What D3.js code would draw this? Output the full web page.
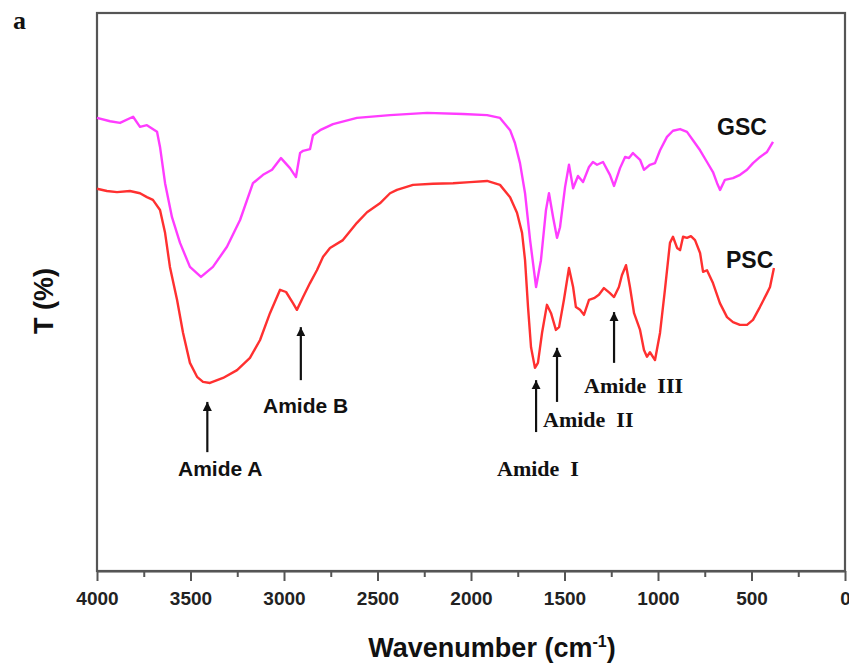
<!DOCTYPE html>
<html>
<head>
<meta charset="utf-8">
<script src="https://cdn.jsdelivr.net/npm/d3@7"></script>
<style>
  html, body { margin: 0; padding: 0; background: #fff; }
  svg { display: block; }
  text { font-family: Arial, "Liberation Sans", sans-serif; }
</style>
</head>
<body>
<svg id="chart" width="849" height="664"></svg>
<script>
// ---------- data ----------
const xTicksMajor = [4000, 3500, 3000, 2500, 2000, 1500, 1000, 500, 0];
const xTicksMinor = [3750, 3250, 2750, 2250, 1750, 1250, 750, 250];

const gscWavenumber = [4000, 3930, 3877, 3807, 3770, 3733, 3679, 3663, 3636, 3599, 3556, 3503, 3444, 3380, 3305, 3235, 3166, 3112, 3064, 3016, 2968, 2936, 2914, 2898, 2861, 2845, 2807, 2738, 2610, 2433, 2235, 2043, 1914, 1845, 1791, 1765, 1738, 1711, 1684, 1652, 1626, 1599, 1583, 1561, 1540, 1524, 1497, 1476, 1454, 1428, 1401, 1369, 1348, 1326, 1294, 1257, 1235, 1203, 1176, 1155, 1134, 1096, 1075, 1043, 1016, 989, 952, 920, 882, 845, 813, 775, 738, 706, 684, 668, 642, 599, 561, 524, 492, 454, 417, 385];
const gscT = [81.2, 80.6, 80.3, 81.4, 79.6, 79.9, 78.7, 76.0, 69.5, 63.4, 58.8, 54.5, 52.7, 54.5, 58.1, 62.9, 69.5, 71.0, 71.9, 74.0, 72.2, 70.6, 74.9, 75.3, 75.6, 78.1, 79.0, 80.1, 81.2, 81.7, 82.1, 81.9, 81.7, 81.2, 79.0, 76.7, 73.1, 67.7, 59.3, 50.9, 55.7, 64.7, 67.7, 63.4, 59.7, 61.6, 68.8, 72.8, 68.6, 70.8, 69.7, 72.4, 73.3, 72.8, 73.3, 71.0, 69.0, 72.2, 74.2, 74.0, 74.9, 73.7, 71.9, 72.8, 73.1, 75.4, 77.8, 78.9, 79.2, 78.7, 77.2, 75.4, 73.3, 71.5, 69.5, 68.3, 70.1, 70.4, 71.0, 71.9, 73.1, 74.2, 75.1, 76.9];

const pscWavenumber = [4000, 3947, 3893, 3824, 3770, 3733, 3701, 3663, 3636, 3610, 3572, 3540, 3503, 3465, 3433, 3396, 3326, 3251, 3182, 3128, 3075, 3021, 2989, 2952, 2931, 2898, 2861, 2824, 2791, 2754, 2685, 2610, 2556, 2487, 2433, 2396, 2310, 2203, 2096, 2005, 1914, 1845, 1791, 1754, 1727, 1711, 1695, 1679, 1658, 1642, 1620, 1594, 1572, 1546, 1529, 1503, 1476, 1454, 1439, 1417, 1396, 1369, 1342, 1316, 1289, 1257, 1235, 1209, 1193, 1171, 1150, 1128, 1096, 1075, 1059, 1043, 1016, 989, 963, 936, 920, 898, 882, 866, 845, 824, 802, 775, 759, 738, 706, 669, 631, 599, 562, 524, 492, 455, 417, 401, 380];
const pscT = [68.5, 68.1, 67.9, 68.1, 67.7, 67.0, 66.5, 64.7, 60.6, 54.5, 48.6, 42.7, 37.3, 34.8, 33.9, 33.7, 34.6, 36.0, 38.2, 41.4, 46.2, 50.4, 50.0, 48.0, 46.8, 49.1, 51.6, 53.9, 56.3, 57.9, 59.3, 62.4, 64.3, 65.9, 67.7, 68.3, 69.2, 69.4, 69.5, 69.7, 69.9, 69.2, 67.0, 64.2, 60.6, 55.7, 47.3, 40.1, 36.4, 37.3, 42.7, 47.7, 46.2, 43.2, 43.7, 48.6, 54.3, 50.9, 47.3, 46.8, 45.9, 48.6, 48.9, 49.5, 50.7, 49.8, 49.1, 50.9, 53.0, 54.8, 50.9, 46.2, 43.2, 39.6, 38.4, 39.2, 37.8, 42.7, 50.4, 58.8, 59.9, 57.9, 57.5, 59.9, 59.7, 60.0, 59.3, 57.0, 53.6, 53.9, 51.6, 48.0, 45.5, 44.6, 44.1, 44.1, 45.0, 47.3, 49.8, 50.9, 54.3];

const seriesNames = ["GSC", "PSC"];
const seriesColors = ["#ff3cff", "#ff3030"];

// annotations: peak wavenumber, arrow tip / tail (T units)
const annotNames = ["Amide A", "Amide B", "Amide  I", "Amide  II", "Amide  III"];
const annotWavenumber = [3410, 2910, 1652, 1540, 1235];
const annotTipT = [30.3, 43.7, 34.2, 40.0, 46.4];
const annotTailT = [21.3, 34.2, 24.9, 30.3, 37.3];

// ---------- layout ----------
const svg = d3.select("#chart");
const margin = { left: 97, right: 4, top: 13, bottom: 93 };
const W = 849, H = 664;
const x = d3.scaleLinear().domain([4000, 0]).range([margin.left, W - margin.right]);
const y = d3.scaleLinear().domain([0, 100]).range([H - margin.bottom, margin.top]);

const frameColor = "#555";

// frame
svg.append("rect")
  .attr("x", x(4000)).attr("y", y(100))
  .attr("width", x(0) - x(4000)).attr("height", y(0) - y(100))
  .attr("fill", "none").attr("stroke", frameColor).attr("stroke-width", 2.2);

// x axis with major ticks
const axis = d3.axisBottom(x)
  .tickValues(xTicksMajor)
  .tickFormat(d3.format("d"))
  .tickSizeInner(10).tickSizeOuter(0).tickPadding(11);
const gx = svg.append("g").attr("transform", `translate(0,${y(0)})`).call(axis);
gx.select(".domain").attr("stroke", frameColor).attr("stroke-width", 2.2);
gx.selectAll(".tick line").attr("stroke", frameColor).attr("stroke-width", 2);
gx.selectAll(".tick text")
  .attr("fill", "#222")
  .style("font-size", "19px").style("font-weight", "bold")
  .style("font-family", "Arial, 'Liberation Sans', sans-serif");

// minor ticks
const axisMinor = d3.axisBottom(x).tickValues(xTicksMinor).tickFormat("").tickSizeInner(6).tickSizeOuter(0);
const gm = svg.append("g").attr("transform", `translate(0,${y(0)})`).call(axisMinor);
gm.select(".domain").remove();
gm.selectAll(".tick line").attr("stroke", frameColor).attr("stroke-width", 2);

// curves
const line = d3.line().x(d => x(d[0])).y(d => y(d[1])).curve(d3.curveLinear);
const series = [
  d3.zip(gscWavenumber, gscT),
  d3.zip(pscWavenumber, pscT)
];
series.forEach((s, i) => {
  svg.append("path").datum(s)
    .attr("d", line)
    .attr("fill", "none")
    .attr("stroke", seriesColors[i])
    .attr("stroke-width", 2.4)
    .attr("stroke-linejoin", "round");
});

// series labels
const labelPos = [[717, 135], [726, 268]];
seriesNames.forEach((n, i) => {
  svg.append("text")
    .attr("x", labelPos[i][0]).attr("y", labelPos[i][1])
    .text(n)
    .style("font-size", "23px").style("font-weight", "bold").attr("fill", "#111");
});

// arrows
const defs = svg.append("defs");
defs.append("marker")
  .attr("id", "ah").attr("viewBox", "0 0 10 10")
  .attr("refX", 10).attr("refY", 5)
  .attr("markerWidth", 4.2).attr("markerHeight", 4.2)
  .attr("markerUnits", "strokeWidth")
  .attr("orient", "auto")
  .append("path").attr("d", "M0,0 L10,5 L0,10 Z").attr("fill", "#111");

annotWavenumber.forEach((wn, i) => {
  svg.append("line")
    .attr("x1", x(wn)).attr("x2", x(wn))
    .attr("y1", y(annotTailT[i])).attr("y2", y(annotTipT[i]))
    .attr("stroke", "#111").attr("stroke-width", 2.2)
    .attr("marker-end", "url(#ah)");
});

// annotation labels
const annotLabelPos = [[178, 476], [263, 413], [497, 476], [543, 427], [584, 393]];
const annotSerif = [false, false, true, true, true];
annotNames.forEach((n, i) => {
  svg.append("text")
    .attr("x", annotLabelPos[i][0]).attr("y", annotLabelPos[i][1])
    .text(n)
    .style("white-space", "pre")
    .style("font-family", annotSerif[i] ? "'Liberation Serif', 'Times New Roman', serif" : "Arial, 'Liberation Sans', sans-serif")
    .style("font-size", annotSerif[i] ? "22px" : "21px")
    .style("font-weight", "bold").attr("fill", "#111");
});

// axis titles
const xt = svg.append("text")
  .attr("x", 492).attr("y", 657)
  .attr("text-anchor", "middle")
  .style("font-size", "27px").style("font-weight", "bold").attr("fill", "#111");
xt.append("tspan").text("Wavenumber (cm");
xt.append("tspan").text("-1").attr("dy", -10).style("font-size", "16px");
xt.append("tspan").text(")").attr("dy", 10);

svg.append("text")
  .attr("transform", "translate(53,301) rotate(-90)")
  .attr("text-anchor", "middle")
  .text("T (%)")
  .style("font-size", "27px").style("font-weight", "bold").attr("fill", "#111");

// panel letter
svg.append("text")
  .attr("x", 13).attr("y", 29)
  .text("a")
  .style("font-family", "'Liberation Serif', 'Times New Roman', serif")
  .style("font-size", "26px").style("font-weight", "bold").attr("fill", "#111");
</script>
</body>
</html>
